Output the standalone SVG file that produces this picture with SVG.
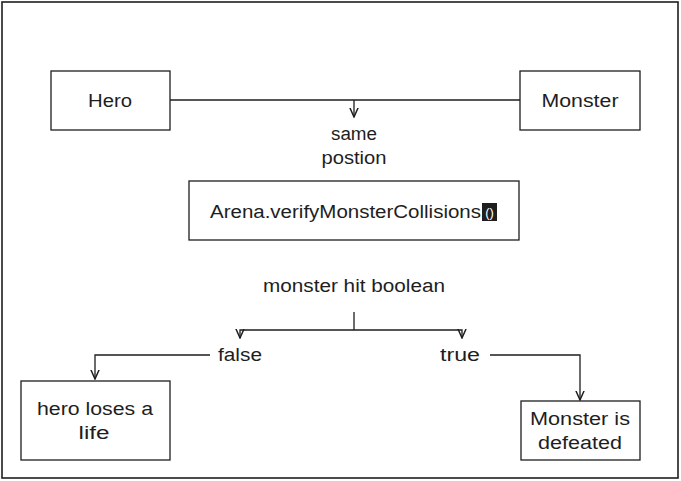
<svg xmlns="http://www.w3.org/2000/svg" width="681" height="481" viewBox="0 0 681 481">
<defs>
<style>
.box{fill:#fff;stroke:#1e1e1e;stroke-width:1.3}
.ln{fill:none;stroke:#1e1e1e;stroke-width:1.3}
text{font-family:"Liberation Sans","Open Sans",sans-serif;font-size:18px;fill:#1e1e1e;text-anchor:middle}
</style>
<marker id="ah" viewBox="0 0 10 10" refX="9" refY="5" markerWidth="8" markerHeight="8" orient="auto">
<path d="M0,1 L9,5 L0,9" fill="none" stroke="#1e1e1e" stroke-width="1.4"/>
</marker>
</defs>
<rect width="681" height="481" fill="#fff"/>
<rect x="2" y="2" width="676" height="476" fill="none" stroke="#1e1e1e" stroke-width="1.6"/>
<g id="connectors">
<path class="ln" d="M170,100 L520,100"/>
<path class="ln" d="M354,100 L354,117" marker-end="url(#ah)"/>
<path class="ln" d="M354,312 L354,330"/>
<path class="ln" d="M354,330 L240,330 L240,338" marker-end="url(#ah)"/>
<path class="ln" d="M354,330 L462,330 L462,338" marker-end="url(#ah)"/>
<path class="ln" d="M210,355 L95,355 L95,379" marker-end="url(#ah)"/>
<path class="ln" d="M490,355 L580,355 L580,400" marker-end="url(#ah)"/>
</g>
<g id="label-same">
<text x="354" y="140" textLength="46" lengthAdjust="spacingAndGlyphs">same</text>
<text x="354" y="164" textLength="65" lengthAdjust="spacingAndGlyphs">postion</text>
</g>
<g id="label-hit"><text x="354" y="292" textLength="182" lengthAdjust="spacingAndGlyphs">monster hit boolean</text></g>
<g id="label-false"><text x="240" y="361" textLength="44" lengthAdjust="spacingAndGlyphs">false</text></g>
<g id="label-true"><text x="460" y="361" textLength="40" lengthAdjust="spacingAndGlyphs">true</text></g>
<g id="hero">
<rect class="box" x="51" y="71" width="119" height="59"/>
<text x="110" y="107" textLength="44" lengthAdjust="spacingAndGlyphs">Hero</text>
</g>
<g id="monster">
<rect class="box" x="520" y="71" width="120" height="59"/>
<text x="580" y="107" textLength="77" lengthAdjust="spacingAndGlyphs">Monster</text>
</g>
<g id="arena">
<rect class="box" x="189" y="181" width="330" height="59"/>
<text x="345.5" y="218" textLength="271" lengthAdjust="spacingAndGlyphs">Arena.verifyMonsterCollisions</text>
<rect x="482" y="203" width="15" height="18" fill="#1e1e1e"/>
<text x="489.5" y="217" style="fill:#fff;font-size:13px">()</text>
</g>
<g id="hero-loses">
<rect class="box" x="21" y="381" width="149" height="79"/>
<text x="95" y="415" textLength="116" lengthAdjust="spacingAndGlyphs">hero loses a</text>
<text x="94" y="439" textLength="31" lengthAdjust="spacingAndGlyphs">life</text>
</g>
<g id="monster-defeated">
<rect class="box" x="521" y="401" width="119" height="59"/>
<text x="580" y="425" textLength="100" lengthAdjust="spacingAndGlyphs">Monster is</text>
<text x="580" y="449" textLength="84" lengthAdjust="spacingAndGlyphs">defeated</text>
</g>
</svg>
